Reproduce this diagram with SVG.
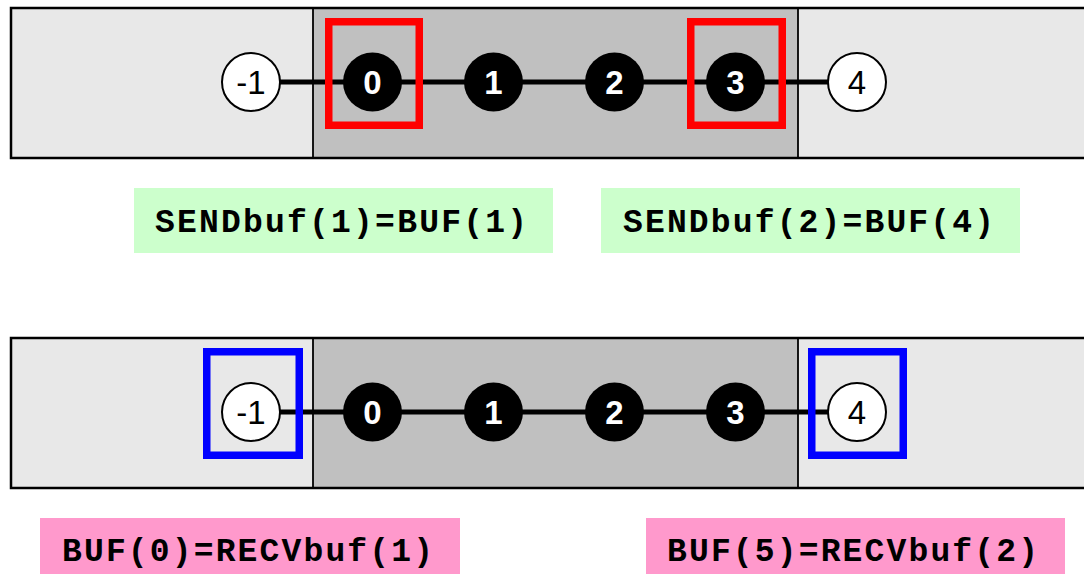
<svg xmlns="http://www.w3.org/2000/svg" width="1084" height="574" viewBox="0 0 1084 574">
<style>
.light{fill:#e8e8e8;stroke:none}
.dark{fill:#c0c0c0;stroke:none}
.frame{fill:none;stroke:#000;stroke-width:2.5}
.div{stroke:#000;stroke-width:1.8}
.link{stroke:#000;stroke-width:5}
.wn{fill:#fff;stroke:#000;stroke-width:2}
.bn{fill:#000;stroke:none}
.wt{font-family:"Liberation Sans",Arial,sans-serif;font-size:33px;fill:#000;text-anchor:middle}
.bt{font-family:"Liberation Sans",Arial,sans-serif;font-size:33px;font-weight:bold;fill:#fff;text-anchor:middle}
.red{fill:none;stroke:#ff0000;stroke-width:7.5}
.blue{fill:none;stroke:#0000ff;stroke-width:7.5}
.green{fill:#ccffcc}
.pink{fill:#ff99cc}
.code{font-family:"Liberation Mono","Courier New",monospace;font-size:33px;font-weight:bold;fill:#000}
</style>
<rect width="1084" height="574" fill="#fff"/>
<g id="panel-top">
<rect class="light" x="11" y="8" width="1080" height="150"/>
<rect class="dark" x="313" y="8" width="485" height="150"/>
<line class="div" x1="313" y1="8" x2="313" y2="158"/>
<line class="div" x1="798" y1="8" x2="798" y2="158"/>
<rect class="frame" x="11" y="8" width="1080" height="150"/>
</g>
<g id="panel-bottom">
<rect class="light" x="11" y="338" width="1080" height="150"/>
<rect class="dark" x="313" y="338" width="485" height="150"/>
<line class="div" x1="313" y1="338" x2="313" y2="488"/>
<line class="div" x1="798" y1="338" x2="798" y2="488"/>
<rect class="frame" x="11" y="338" width="1080" height="150"/>
</g>
<g id="connectors">
<line class="link" x1="251" y1="82" x2="857" y2="82"/>
<line class="link" x1="251" y1="412" x2="857" y2="412"/>
</g>
<g id="top-nodes">
<g id="t-m1"><circle class="wn" cx="251" cy="82" r="29"/><text class="wt" x="251" y="94">-1</text></g>
<g id="t-0"><circle class="bn" cx="372.5" cy="82" r="29.5"/><text class="bt" x="372.5" y="94">0</text></g>
<g id="t-1"><circle class="bn" cx="493.5" cy="82" r="29.5"/><text class="bt" x="493.5" y="94">1</text></g>
<g id="t-2"><circle class="bn" cx="614.5" cy="82" r="29.5"/><text class="bt" x="614.5" y="94">2</text></g>
<g id="t-3"><circle class="bn" cx="735.5" cy="82" r="29.5"/><text class="bt" x="735.5" y="94">3</text></g>
<g id="t-4"><circle class="wn" cx="857" cy="82" r="29"/><text class="wt" x="857" y="94">4</text></g>
</g>
<g id="bottom-nodes">
<g id="b-m1"><circle class="wn" cx="251" cy="412" r="29"/><text class="wt" x="251" y="424">-1</text></g>
<g id="b-0"><circle class="bn" cx="372.5" cy="412" r="29.5"/><text class="bt" x="372.5" y="424">0</text></g>
<g id="b-1"><circle class="bn" cx="493.5" cy="412" r="29.5"/><text class="bt" x="493.5" y="424">1</text></g>
<g id="b-2"><circle class="bn" cx="614.5" cy="412" r="29.5"/><text class="bt" x="614.5" y="424">2</text></g>
<g id="b-3"><circle class="bn" cx="735.5" cy="412" r="29.5"/><text class="bt" x="735.5" y="424">3</text></g>
<g id="b-4"><circle class="wn" cx="857" cy="412" r="29"/><text class="wt" x="857" y="424">4</text></g>
</g>
<g id="highlights">
<rect id="send-1" class="red" x="328.75" y="21.75" width="90.5" height="103.5"/>
<rect id="send-2" class="red" x="690.75" y="21.75" width="91.5" height="103.5"/>
<rect id="recv-1" class="blue" x="206.75" y="351.75" width="92.5" height="103.5"/>
<rect id="recv-2" class="blue" x="811.75" y="351.75" width="91.5" height="103.5"/>
</g>
<g id="label-send1"><rect class="green" x="134" y="188" width="419" height="65"/><text class="code" x="155" y="232" textLength="372" lengthAdjust="spacing">SENDbuf(1)=BUF(1)</text></g>
<g id="label-send2"><rect class="green" x="601" y="188" width="419" height="65"/><text class="code" x="623" y="232" textLength="371" lengthAdjust="spacing">SENDbuf(2)=BUF(4)</text></g>
<g id="label-recv1"><rect class="pink" x="40" y="518" width="420" height="56"/><text class="code" x="62" y="561" textLength="371" lengthAdjust="spacing">BUF(0)=RECVbuf(1)</text></g>
<g id="label-recv2"><rect class="pink" x="646" y="518" width="419" height="56"/><text class="code" x="667" y="561" textLength="371" lengthAdjust="spacing">BUF(5)=RECVbuf(2)</text></g>
</svg>
